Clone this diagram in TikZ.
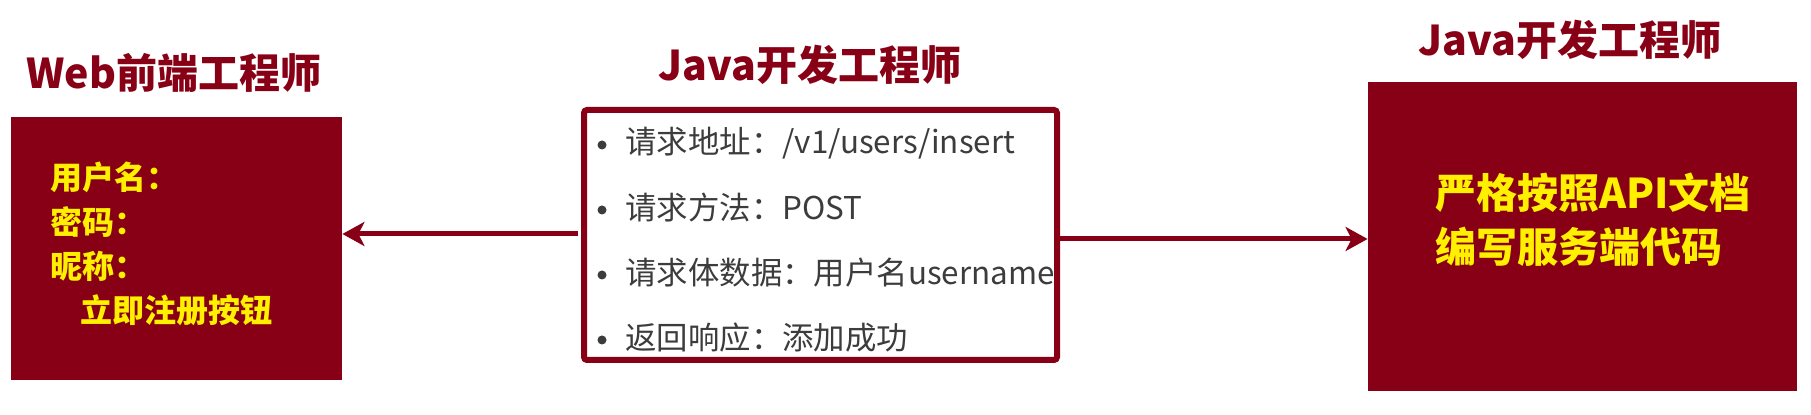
\documentclass[tikz,border=0pt]{standalone}
\usepackage{fontspec}
\newfontfamily\cjk{Noto Sans CJK SC}
\usetikzlibrary{arrows.meta}
\definecolor{darkred}{HTML}{880015}
\definecolor{txtyellow}{HTML}{FFF000}
\definecolor{txtgray}{HTML}{3C3C3C}
\begin{document}
\begin{tikzpicture}[x=0.5pt,y=-0.5pt,
  title/.style={font=\cjk\bfseries\fontsize{20.5pt}{24pt}\selectfont, text=darkred, inner sep=0pt},
  filledbox/.style={fill=darkred, draw=none, inner sep=0pt},
  ytext/.style={font=\cjk\bfseries\fontsize{16pt}{19pt}\selectfont, text=txtyellow, anchor=west, inner sep=0pt},
  bigytext/.style={font=\cjk\bfseries\fontsize{20.5pt}{24pt}\selectfont, text=txtyellow, anchor=west, inner sep=0pt},
  midbox/.style={draw=darkred, line width=3pt, fill=white, rounded corners=1.5pt, inner sep=0pt},
  bul/.style={circle, fill=txtgray, draw=none, minimum size=4.5pt, inner sep=0pt},
  item/.style={font=\cjk\fontsize{15.7pt}{18pt}\selectfont, text=txtgray, anchor=west, inner sep=0pt},
  conn/.style={draw=darkred, line width=2.5pt, -{Stealth[length=11pt,width=12pt,inset=3pt]}}
]
\useasboundingbox (0,0) rectangle (1811,415);

% left box
\node[filledbox, minimum width=165.5pt, minimum height=131.5pt] (fe) at (176.5,248.5) {};
\node[title] (fetitle) at (174,73) {Web前端工程师};
\node[ytext] (l1) at (50,177) {用户名：};
\node[ytext] (l2) at (50,222) {密码：};
\node[ytext] (l3) at (50,266) {昵称：};
\node[ytext] (l4) at (80,310) {立即注册按钮};

% middle box
\node[midbox, minimum width=236.5pt, minimum height=125pt] (api) at (820.5,235) {};
\node[title] (apititle) at (810,65) {Java开发工程师};
\node[bul] (b1) at (602,145) {};
\node[item] (i1) at (625,143) {请求地址：/v1/users/insert};
\node[bul] (b2) at (602,210) {};
\node[item] (i2) at (625,208) {请求方法：POST};
\node[bul] (b3) at (602,275) {};
\node[item] (i3) at (625,273) {请求体数据：用户名username};
\node[bul] (b4) at (602,340) {};
\node[item] (i4) at (625,338) {返回响应：添加成功};

% right box
\node[filledbox, minimum width=214.5pt, minimum height=154.5pt] (be) at (1582.5,236.5) {};
\node[title] (betitle) at (1570,40) {Java开发工程师};
\node[bigytext] (r1) at (1435,193) {严格按照API文档};
\node[bigytext] (r2) at (1435,247) {编写服务端代码};

% connectors
\draw[conn] ([xshift=-1.5pt,yshift=0.5pt]api.west) -- ([yshift=0.5pt]api.west -| fe.east);
\draw[conn] ([yshift=-2pt]api.east) -- ([yshift=-2pt]api.east -| be.west);
\end{tikzpicture}
\end{document}
